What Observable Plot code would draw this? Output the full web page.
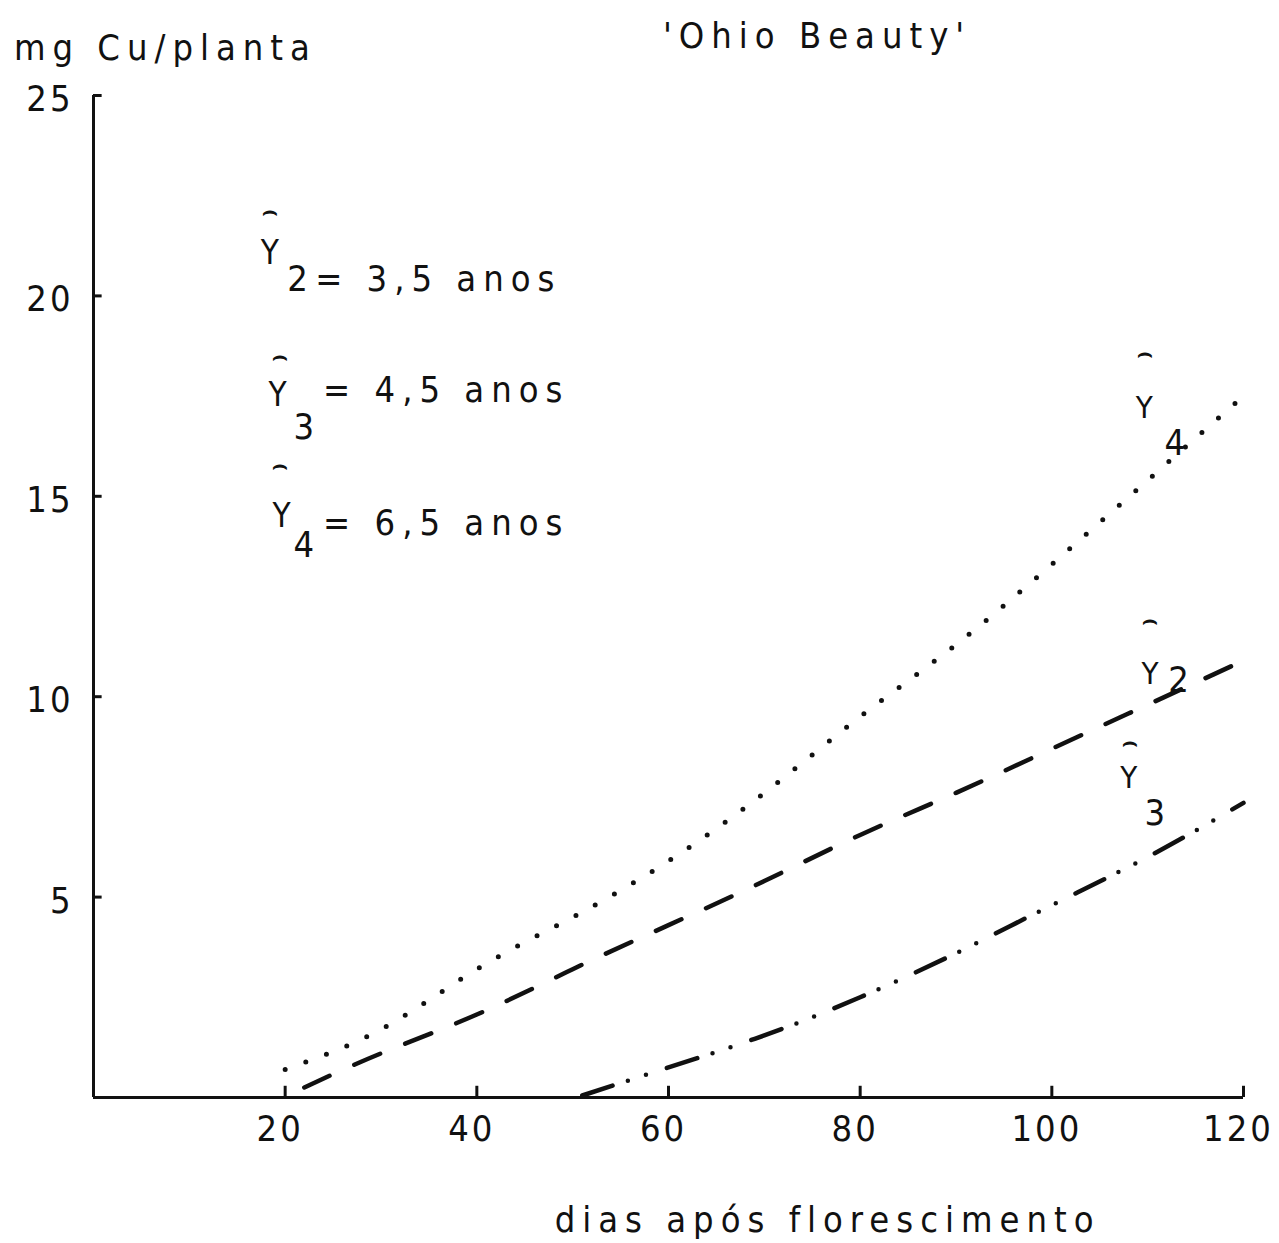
<!DOCTYPE html>
<html><head><meta charset="utf-8">
<script src="https://cdn.jsdelivr.net/npm/d3@7"></script>
<script src="https://cdn.jsdelivr.net/npm/@observablehq/plot@0.6"></script>
<style>
body{margin:0;background:#fff;}
svg text{font-family:"DejaVu Sans Condensed","Liberation Sans Narrow","DejaVu Sans",sans-serif;}
</style></head><body><div id="chart"></div>
<script>
// Data (days after flowering, mg Cu/plant)
const days4 = [20,30,40,50,60,70,80,90,100,110,120];
const y4    = [0.7,1.7,3.2,4.5,5.9,7.6,9.5,11.3,13.3,15.4,17.5];
const days2 = [22,30,40,50,60,70,80,90,100,110,120];
const y2    = [0.25,1.1,2.07,3.2,4.3,5.4,6.55,7.6,8.7,9.8,10.9];
const days3 = [51,60,70,80,90,100,110,120];
const y3    = [0.05,0.75,1.55,2.5,3.6,4.8,6.0,7.35];
const xTicks = [20,40,60,80,100,120];
const yTicks = [5,10,15,20,25];
const legendText = ["= 3,5 anos","= 4,5 anos","= 6,5 anos"];
const seriesIdx = ["2","3","4"];
const titleText = "'Ohio Beauty'";
const yLabel = "mg Cu/planta";
const xLabel = "dias após florescimento";

const s4 = days4.map((d,i)=>({d, v:y4[i]}));
const s2 = days2.map((d,i)=>({d, v:y2[i]}));
const s3 = days3.map((d,i)=>({d, v:y3[i]}));

// annotation anchors (data units)
const legY   = [{x:18.75,y:21.07},{x:19.58,y:17.52},{x:20.0,y:14.5}];
const legHat = [{x:18.75,y:22.1},{x:19.79,y:18.5},{x:19.79,y:15.78}];
const legSub = [{x:21.67,y:20.42},{x:22.3,y:16.71},{x:22.3,y:13.78}];
const legTxt = [{x:23.13,y:20.4},{x:23.96,y:17.63},{x:23.96,y:14.31}];
// curve labels: order Y2, Y3, Y4
const curY   = [{x:110.6,y:10.57},{x:108.4,y:7.98},{x:110.0,y:17.21}];
const curHat = [{x:110.6,y:11.9},{x:108.5,y:8.85},{x:110.1,y:18.58}];
const curSub = [{x:113.6,y:10.4},{x:111.1,y:7.08},{x:113.2,y:16.33}];

const FS = 36;
const txt = (name, arr, labels, extra={}) => Plot.text(arr, {x:"x", y:"y", text:(d,i)=>typeof labels==="string"?labels:labels[i], fontSize:FS, fill:"#111", ariaLabel:name, ...extra});

const chart = Plot.plot({
  width: 1279, height: 1243,
  marginLeft: 93, marginRight: 36, marginTop: 95, marginBottom: 146,
  style: {fontSize: FS+"px", background:"#fff", color:"#111", letterSpacing:"7px"},
  x: {domain:[0,120]},
  y: {domain:[0,25]},
  marks: [
    Plot.axisX({ticks: xTicks, tickSize:0, tickPadding:18, fontSize:FS, dx:-5, tickFormat:d=>String(d), label:null}),
    Plot.axisY({ticks: yTicks, tickSize:0, tickPadding:20, fontSize:FS, dy:4, tickFormat:d=>String(d), label:null}),
    Plot.ruleY([0], {x1:0, x2:120, stroke:"#111", strokeWidth:3}),
    Plot.ruleX([0], {y1:0, y2:25, stroke:"#111", strokeWidth:3}),
    Plot.ruleX(xTicks, {y1:0, y2:0.28, stroke:"#111", strokeWidth:3}),
    Plot.ruleY(yTicks, {x1:0, x2:0.9, stroke:"#111", strokeWidth:3}),
    Plot.line(s4, {x:"d", y:"v", curve:"natural", stroke:"#111", strokeWidth:5, strokeDasharray:"0 22", strokeLinecap:"round"}),
    Plot.line(s2, {x:"d", y:"v", curve:"natural", stroke:"#111", strokeWidth:4.5, strokeDasharray:"28 27", strokeLinecap:"round"}),
    Plot.line(s3, {x:"d", y:"v", curve:"natural", stroke:"#111", strokeWidth:4.5, strokeDasharray:"32 16 0 19 0 22", strokeLinecap:"round"}),
    // legend
    txt("hat", legHat, "⌢", {fontSize:24, fontWeight:"bold"}),
    txt("glyph", legY, "Y", {fontSize:33}),
    txt("sub", legSub, seriesIdx),
    txt("legend", legTxt, legendText, {textAnchor:"start"}),
    // curve labels
    txt("hat", curHat, "⌢", {fontSize:24, fontWeight:"bold"}),
    txt("glyph", curY, "Y", {fontSize:31}),
    txt("sub", curSub, seriesIdx),
    // titles
    Plot.text([titleText], {x:()=>75.5, y:()=>26.48, text:d=>d, fontSize:FS, fill:"#111", ariaLabel:"title"}),
    Plot.text([yLabel], {x:()=>-8.3, y:()=>26.18, text:d=>d, fontSize:FS, textAnchor:"start", fill:"#111", ariaLabel:"ylabel"}),
    Plot.text([xLabel], {x:()=>76.6, y:()=>-3.07, text:d=>d, fontSize:FS, fill:"#111", ariaLabel:"xlabel"})
  ]
});
document.getElementById("chart").appendChild(chart);
const svg = d3.select(chart);
svg.selectAll('g[aria-label="x-axis tick label"] text, g[aria-label="y-axis tick label"] text').style("letter-spacing","3px");
svg.selectAll('g[aria-label="hat"] text, g[aria-label="glyph"] text, g[aria-label="sub"] text').style("letter-spacing","0px");
</script></body></html>
